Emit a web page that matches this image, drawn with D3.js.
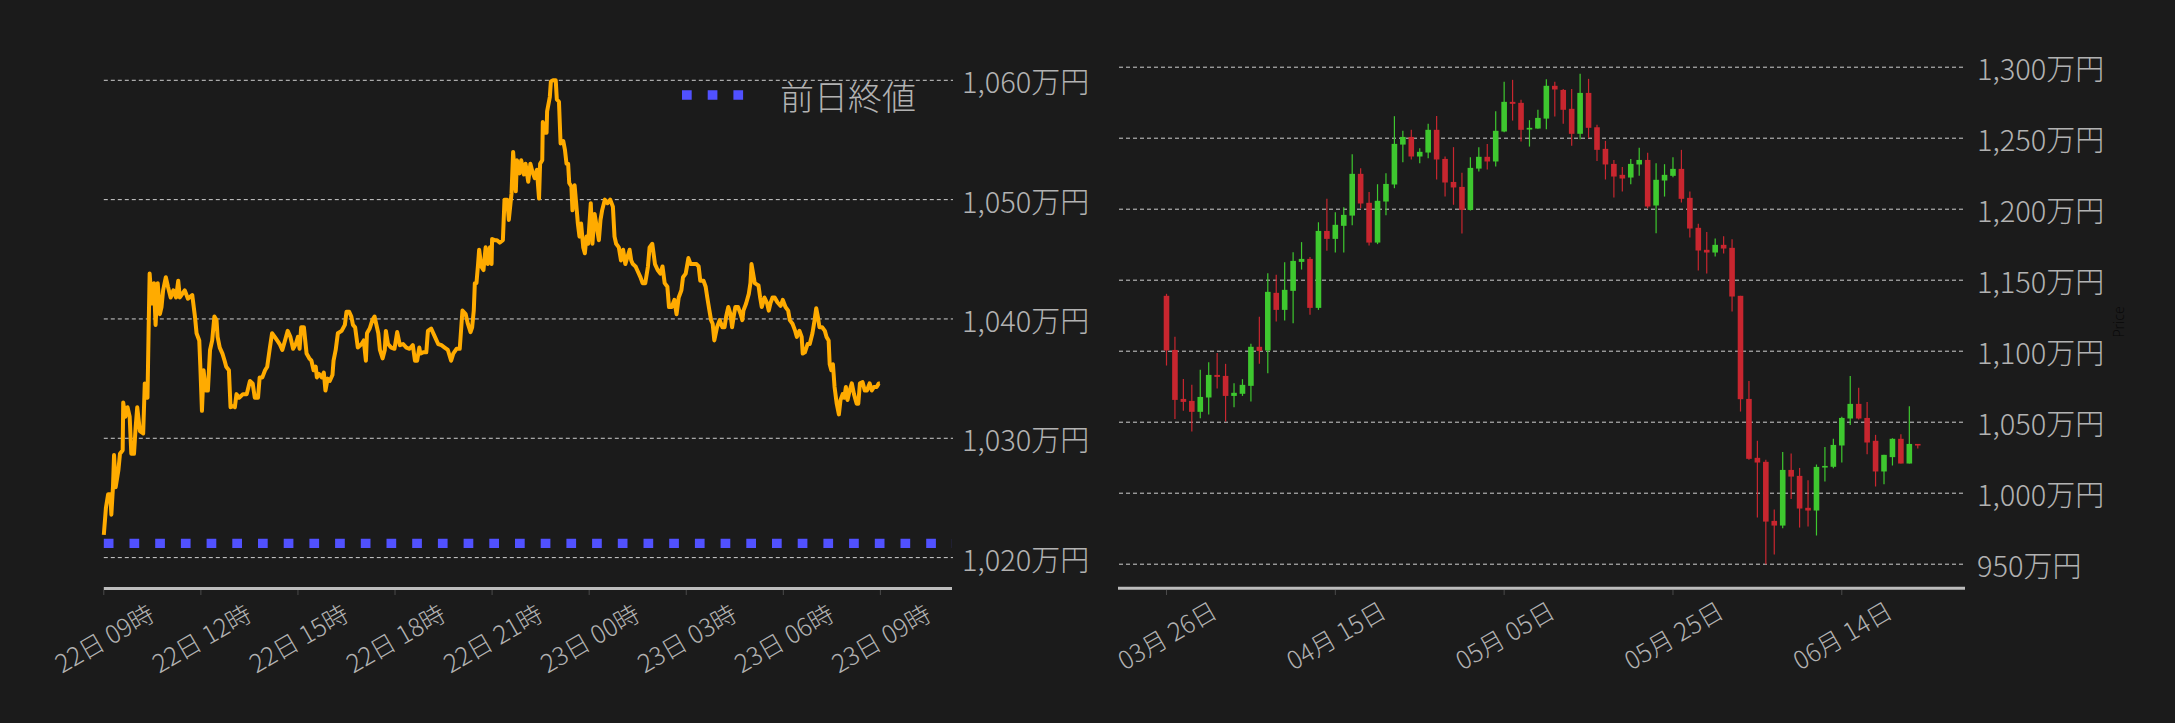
<!DOCTYPE html>
<html><head><meta charset="utf-8">
<script src="https://cdn.jsdelivr.net/npm/d3@7"></script>
<style>
html,body{margin:0;padding:0;background:#1b1b1b;}
svg{display:block;}
text{font-family:"Noto Sans CJK JP","Noto Sans",sans-serif;font-weight:300;}
</style></head><body>
<svg id="chart" width="2175" height="723"></svg>
<script>
// ---------- Left chart: intraday price (minutes after 22日 09:00, 万円) ----------
const lineMinutes = [0,4,8,12,14,17,19,22,27,30,35,36,40,44,48,51,56,59,62,67,73,76,81,83,85,89,93,96,100,104,107,110,115,119,124,129,134,138,141,150,156,164,169,172,177,179,182,185,189,193,197,201,205,209,211,215,220,224,227,232,235,240,243,246,251,258,265,271,276,280,286,289,294,299,303,308,312,317,323,326,331,336,341,346,351,356,360,363,366,371,376,381,385,389,393,395,399,404,408,411,415,419,424,426,430,434,441,447,450,455,459,462,466,471,478,482,486,488,493,498,502,505,509,512,517,521,523,527,533,539,544,549,555,561,567,573,577,581,585,587,592,598,601,607,614,620,626,632,638,644,648,654,660,665,671,675,680,683,686,688,691,694,696,700,704,708,712,716,719,720,725,729,734,740,743,748,751,756,759,764,766,771,774,779,782,787,791,795,799,803,807,809,813,814,818,821,822,827,829,833,838,840,844,847,852,855,858,861,863,867,869,873,877,879,882,
885,889,892,895,898,903,906,910,913,918,921,924,929,934,939,944,947,950,955,959,963,967,971,975,978,981,986,989,995,999,1004,1009,1012,1017,1022,1027,1032,1036,1040,1045,1048,1053,1058,1062,1066,1071,1074,1079,1084,1088,1093,1099,1103,1106,1112,1116,1119,1123,1126,1129,1132,1137,1142,1147,1151,1154,1158,1162,1165,1168,1171,1176,1181,1184,1186,1191,1196,1199,1201,1204,1207,1214,1217,1220,1225,1230,1233,1236,1240,1244,1249,1255,1259,1264,1269,1272,1277,1282,1285,1290,1294,1296,1300,1305,1309,1314,1318,1321,1324,1327,1332,1337,1340,1344,1346,1349,1352,1355,1359,1363,1366,1370,1373,1376,1379,1383,1387,1391,1396,1399,1402,1407,1411,1415,1420,1424,1428,1433,1437,1439];
const lineValues = [1021.9,1024.2,1025.3,1025.3,1023.6,1025.9,1028.6,1025.9,1027.3,1028.7,1029.0,1033.0,1031.8,1032.6,1031.8,1028.7,1028.7,1030.9,1032.6,1030.6,1030.4,1034.6,1033.4,1038.8,1043.8,1041.3,1043.0,1039.5,1043.0,1040.4,1041.0,1042.4,1043.5,1042.7,1041.8,1042.4,1041.8,1043.2,1041.8,1042.4,1041.7,1042.0,1040.2,1038.8,1038.2,1036.0,1032.3,1035.7,1034.0,1034.0,1037.4,1038.2,1040.2,1039.9,1038.5,1037.6,1037.1,1036.5,1036.0,1035.7,1032.6,1032.7,1032.6,1033.7,1033.4,1033.7,1033.7,1034.8,1034.6,1033.4,1033.4,1035.1,1035.1,1035.7,1036.0,1037.6,1038.8,1038.5,1038.1,1037.9,1037.4,1038.2,1039.0,1038.5,1037.5,1037.9,1038.5,1037.5,1039.3,1039.3,1037.1,1036.7,1036.5,1035.7,1036.0,1035.1,1035.4,1035.1,1035.5,1034.0,1035.0,1034.8,1035.3,1036.5,1037.4,1038.8,1039.0,1039.5,1040.6,1040.6,1040.2,1039.5,1039.3,1037.6,1037.9,1038.2,1036.5,1038.8,1039.2,1039.9,1040.2,1039.6,1038.8,1037.4,1036.7,1037.4,1039.0,1037.9,1037.6,1037.5,1038.9,1037.8,1037.9,1037.6,1037.5,1037.8,1036.5,1036.5,1037.6,1037.1,1037.2,1037.2,1039.0,1039.2,1038.5,1037.9,1037.8,1037.6,1037.4,1036.5,1037.1,1037.5,1037.5,1040.7,1040.4,1039.6,1038.9,1039.3,1040.7,1043.0,1043.0,1044.6,1045.8,1044.4,1044.1,1046.0,1044.6,1046.0,1044.6,1046.7,1046.6,1046.6,1046.4,1046.6,1050.0,1050.0,1048.3,1050.5,1054.0,1050.7,1053.3,1052.2,1053.3,1052.1,1053.0,1051.5,1053.0,1052.3,1051.8,1052.5,1050.1,1053.0,1053.3,1056.5,1055.6,1055.6,1057.4,1058.6,1059.9,1060.0,1060.0,1058.4,1058.2,1054.7,1054.9,1054.2,1053.0,1053.0,1051.4,1051.1,1049.1,1051.2,1049.1,1048.0,1046.9,
1048.0,1046.0,1045.5,1046.9,1046.3,1049.7,1046.3,1048.8,1048.0,1046.6,1048.3,1049.1,1050.0,1049.7,1050.0,1049.4,1046.9,1046.3,1046.0,1044.9,1045.8,1044.6,1045.2,1045.8,1044.9,1044.6,1044.4,1044.1,1043.5,1043.0,1043.0,1044.4,1046.0,1046.3,1044.6,1044.1,1043.8,1044.4,1043.0,1042.7,1041.0,1041.0,1041.6,1040.4,1041.8,1042.4,1043.5,1043.8,1045.1,1044.6,1044.6,1044.6,1044.4,1043.2,1043.2,1042.7,1041.8,1040.7,1039.9,1039.6,1038.2,1039.3,1039.9,1039.3,1039.3,1040.2,1041.0,1040.4,1039.3,1040.2,1041.0,1041.0,1040.4,1039.9,1040.7,1041.3,1042.1,1043.0,1044.6,1043.8,1043.0,1042.8,1041.8,1041.0,1041.8,1041.3,1040.7,1041.3,1041.8,1041.8,1041.4,1041.1,1041.6,1041.0,1040.7,1039.9,1039.6,1039.0,1038.5,1039.0,1038.5,1037.1,1037.2,1037.9,1037.9,1038.8,1039.9,1040.9,1040.2,1039.3,1039.3,1039.0,1038.5,1038.2,1036.2,1035.7,1036.2,1034.3,1032.9,1032.0,1033.2,1033.7,1033.4,1034.3,1033.2,1034.0,1034.6,1033.7,1032.9,1032.9,1034.6,1034.7,1034.0,1034.0,1034.6,1034.0,1034.3,1034.3,1034.6,1034.6];
const prevClose = 1021.2;
const legendLabel = "前日終値";
const lineTickHours = [0,3,6,9,12,15,18,21,24];
const lineTickLabels = ["22日 09時","22日 12時","22日 15時","22日 18時","22日 21時","23日 00時","23日 03時","23日 06時","23日 09時"];
const lineYTicks = [1020,1030,1040,1050,1060];

// ---------- Right chart: daily candles (万円) ----------
const candleDates = ["03-26","03-27","03-28","03-29","03-30","03-31",
"04-01","04-02","04-03","04-04","04-05","04-06","04-07","04-08","04-09","04-10","04-11","04-12","04-13","04-14","04-15","04-16","04-17","04-18","04-19","04-20","04-21","04-22","04-23","04-24","04-25","04-26","04-27","04-28","04-29","04-30",
"05-01","05-02","05-03","05-04","05-05","05-06","05-07","05-08","05-09","05-10","05-11","05-12","05-13","05-14","05-15","05-16","05-17","05-18","05-19","05-20","05-21","05-22","05-23","05-24","05-25","05-26","05-27","05-28","05-29","05-30","05-31",
"06-01","06-02","06-03","06-04","06-05","06-06","06-07","06-08","06-09","06-10","06-11","06-12","06-13","06-14","06-15","06-16","06-17","06-18","06-19","06-20","06-21","06-22","06-23"];
const candleOpen = [1139.0,1100.9,1066.4,1065.0,1057.3,1067.4,1083.3,1082.6,1068.5,1070.0,1075.6,1103.1,1100.5,1141.1,1129.1,1142.5,1162.9,1165.0,1130.5,1184.7,1179.1,1188.3,1195.5,1224.9,1204.5,1176.5,1205.4,1217.4,1245.5,1250.9,1237.1,1239.9,1255.9,1235.4,1219.2,1215.7,1199.5,1228.6,1236.9,1233.6,1254.7,1275.6,1274.9,1256.1,1256.8,1263.8,1286.9,1284.0,1270.7,1253.1,1281.9,1257.7,1242.5,1231.9,1224.2,1222.3,1231.5,1234.7,1202.6,1220.2,1223.5,1228.4,1208.0,1186.9,1171.4,1169.5,1174.9,1172.8,1139.0,1066.4,1024.9,1022.1,980.5,977.2,1016.4,1012.2,989.7,987.8,1018.1,1018.6,1033.6,1052.6,1062.9,1053.0,1036.9,1015.3,1025.4,1038.3,1020.9,1034.7];
const candleHigh = [1140.4,1110.1,1080.5,1076.3,1086.9,1092.3,1098.8,1091.1,1077.5,1080.3,1105.2,1124.2,1154.9,1153.8,1162.7,1169.7,1176.8,1166.4,1190.8,1207.3,1197.9,1201.4,1238.7,1228.9,1212.2,1217.6,1225.4,1265.5,1255.2,1255.9,1243.0,1260.1,1265.7,1237.1,1243.7,1225.6,1236.6,1243.7,1246.0,1269.0,1289.7,1291.1,1277.0,1262.7,1270.0,1291.5,1289.7,1284.7,1284.7,1295.3,1291.8,1259.4,1248.1,1234.7,1229.8,1235.4,1243.2,1239.7,1232.4,1231.7,1236.6,1241.8,1212.4,1189.7,1184.0,1179.3,1181.0,1178.9,1139.0,1079.1,1036.9,1023.5,988.5,1029.1,1027.9,1017.8,1009.2,1020.2,1032.6,1038.3,1053.8,1082.6,1074.2,1064.3,1041.1,1027.0,1038.7,1041.5,1061.3,1034.7];
const candleLow = [1089.9,1052.3,1058.0,1043.4,1052.8,1055.4,1073.7,1050.5,1060.6,1068.5,1064.6,1091.1,1084.5,1120.9,1121.6,1119.7,1157.5,1125.6,1129.1,1170.7,1169.5,1169.5,1188.7,1200.7,1174.4,1175.4,1195.8,1214.8,1233.1,1235.0,1232.4,1235.9,1220.9,1208.9,1203.1,1182.9,1199.1,1226.5,1227.9,1230.0,1254.2,1262.4,1247.7,1244.1,1256.6,1256.3,1265.3,1260.1,1244.6,1249.3,1250.0,1234.0,1220.9,1208.2,1212.4,1217.6,1223.5,1200.7,1183.1,1208.9,1222.5,1204.7,1180.0,1156.8,1154.7,1166.7,1168.8,1127.9,1057.5,1023.5,982.9,950.0,956.8,975.4,996.0,975.8,976.5,970.2,1008.2,1017.6,1021.6,1048.1,1051.9,1027.5,1004.7,1006.3,1019.5,1020.9,1020.9,1031.5];
const candleClose = [1100.5,1065.7,1064.3,1057.3,1067.8,1083.3,1081.9,1068.5,1070.7,1076.3,1103.1,1100.2,1141.8,1129.1,1143.2,1163.6,1165.0,1130.5,1184.7,1179.1,1189.0,1196.0,1224.9,1204.0,1176.5,1205.9,1217.8,1246.0,1250.9,1237.1,1240.4,1255.9,1235.0,1218.8,1215.3,1199.5,1229.1,1236.9,1233.6,1255.2,1275.6,1274.2,1255.9,1257.3,1264.3,1286.9,1284.3,1270.0,1253.1,1281.9,1257.3,1241.8,1231.5,1223.0,1221.6,1231.9,1234.7,1201.9,1220.7,1224.2,1228.4,1207.3,1186.4,1170.9,1169.5,1174.9,1172.3,1138.5,1066.2,1024.2,1021.6,980.0,977.2,1016.4,1011.7,989.2,987.8,1018.5,1019.2,1034.0,1053.0,1062.9,1052.6,1035.7,1015.3,1027.0,1038.3,1020.9,1034.7,1033.6];
const candleTickDates = ["03-26","04-15","05-05","05-25","06-14"];
const candleTickLabels = ["03月 26日","04月 15日","05月 05日","05月 25日","06月 14日"];
const candleYTicks = [950,1000,1050,1100,1150,1200,1250,1300];
const yAxisTitle = "Price";

// ---------- drawing ----------
const svg = d3.select("#chart");
const DAY = 864e5, HOUR = 36e5;
const labelColor = "#b2b2b2", gridColor = "#cfcfcf";
const fmt = d3.format(",");

// Left
const t0 = Date.UTC(2024, 5, 22, 9, 0);
const pxPerHour = 776.6 / 24;
const xL = d3.scaleUtc()
  .domain([new Date(t0), new Date(t0 + (952 - 103.8) / pxPerHour * HOUR)])
  .range([103.8, 952]);
const yL = d3.scaleLinear().domain([1020, 1060]).range([557.6, 80.3]);
const gL = svg.append("g");

gL.selectAll("line.grid").data(lineYTicks).join("line")
  .attr("x1", 103.8).attr("x2", 953)
  .attr("y1", d => yL(d)).attr("y2", d => yL(d))
  .attr("stroke", gridColor).attr("stroke-width", 1).attr("stroke-dasharray", "4,3");
gL.selectAll("text.ylab").data(lineYTicks).join("text")
  .attr("x", 962).attr("y", d => yL(d))
  .attr("dominant-baseline", "central")
  .attr("font-size", 29).attr("fill", labelColor)
  .text(d => fmt(d) + "万円");

// previous close dotted line
gL.append("line")
  .attr("x1", xL.range()[0]).attr("x2", xL.range()[1])
  .attr("y1", yL(prevClose)).attr("y2", yL(prevClose))
  .attr("stroke", "#5151ff").attr("stroke-width", 9.3).attr("stroke-dasharray", "9.7,16");

// price line
const linePts = d3.range(Math.min(lineMinutes.length, lineValues.length))
  .map(i => [new Date(t0 + lineMinutes[i] * 60000), lineValues[i]]);
gL.append("path")
  .attr("d", d3.line().x(d => xL(d[0])).y(d => yL(d[1]))(linePts))
  .attr("fill", "none").attr("stroke", "#ffab00").attr("stroke-width", 4)
  .attr("stroke-linejoin", "round");

// x axis
gL.append("line").attr("x1", 103.8).attr("x2", 952).attr("y1", 588.5).attr("y2", 588.5)
  .attr("stroke", "#bdbdbd").attr("stroke-width", 3);
gL.selectAll("line.tick").data(lineTickHours).join("line")
  .attr("x1", d => xL(new Date(t0 + d * HOUR))).attr("x2", d => xL(new Date(t0 + d * HOUR)))
  .attr("y1", 590).attr("y2", 595).attr("stroke", "#4a4a4a").attr("stroke-width", 1);
gL.selectAll("text.xlab").data(lineTickHours).join("text")
  .attr("transform", d => `translate(${xL(new Date(t0 + d * HOUR))},637) rotate(-30)`)
  .attr("text-anchor", "middle").attr("dominant-baseline", "central")
  .attr("font-size", 25).attr("fill", labelColor)
  .text((d, i) => lineTickLabels[i]);

// legend
gL.append("line").attr("x1", 682).attr("x2", 744).attr("y1", 95).attr("y2", 95)
  .attr("stroke", "#5151ff").attr("stroke-width", 9.3).attr("stroke-dasharray", "9.7,16");
gL.append("text").attr("x", 780).attr("y", 95)
  .attr("dominant-baseline", "central").attr("font-size", 34).attr("fill", labelColor)
  .text(legendLabel);

// Right
const parseDay = s => { const [m, d] = s.split("-").map(Number); return new Date(Date.UTC(2024, m - 1, d)); };
const d0 = Date.UTC(2024, 2, 26);
const pxPerDay = 675.3 / 80;
const xR = d3.scaleUtc()
  .domain([new Date(d0 - (1166.5 - 1118) / pxPerDay * DAY), new Date(d0 + (1965 - 1166.5) / pxPerDay * DAY)])
  .range([1118, 1965]);
const yR = d3.scaleLinear().domain([950, 1300]).range([564.2, 67.2]);
const gR = svg.append("g");

gR.selectAll("line.grid").data(candleYTicks).join("line")
  .attr("x1", 1119).attr("x2", 1964)
  .attr("y1", d => yR(d)).attr("y2", d => yR(d))
  .attr("stroke", gridColor).attr("stroke-width", 1).attr("stroke-dasharray", "4,3");
gR.selectAll("text.ylab").data(candleYTicks).join("text")
  .attr("x", 1977).attr("y", d => yR(d))
  .attr("dominant-baseline", "central")
  .attr("font-size", 29).attr("fill", labelColor)
  .text(d => fmt(d) + "万円");

const candles = candleDates.map((s, i) => ({
  date: parseDay(s), o: candleOpen[i], h: candleHigh[i], l: candleLow[i], c: candleClose[i]
}));
const up = "#3ec82f", down = "#c8262f";
const cg = gR.selectAll("g.candle").data(candles).join("g");
cg.append("line")
  .attr("x1", d => xR(d.date)).attr("x2", d => xR(d.date))
  .attr("y1", d => yR(d.h)).attr("y2", d => yR(d.l))
  .attr("stroke", d => d.c >= d.o ? up : down).attr("stroke-width", 1.2);
const bw = 5.6;
cg.append("rect")
  .attr("x", d => xR(d.date) - bw / 2).attr("width", bw)
  .attr("y", d => yR(Math.max(d.o, d.c)))
  .attr("height", d => Math.max(1.6, Math.abs(yR(d.o) - yR(d.c))))
  .attr("fill", d => d.c >= d.o ? up : down);

gR.append("line").attr("x1", 1118).attr("x2", 1965).attr("y1", 588.3).attr("y2", 588.3)
  .attr("stroke", "#bdbdbd").attr("stroke-width", 3);
gR.selectAll("line.tick").data(candleTickDates).join("line")
  .attr("x1", d => xR(parseDay(d))).attr("x2", d => xR(parseDay(d)))
  .attr("y1", 590).attr("y2", 595).attr("stroke", "#4a4a4a").attr("stroke-width", 1);
gR.selectAll("text.xlab").data(candleTickDates).join("text")
  .attr("transform", d => `translate(${xR(parseDay(d))},634) rotate(-30)`)
  .attr("text-anchor", "middle").attr("dominant-baseline", "central")
  .attr("font-size", 25).attr("fill", labelColor)
  .text((d, i) => candleTickLabels[i]);

gR.append("text")
  .attr("transform", "translate(2118,322) rotate(-90)")
  .attr("text-anchor", "middle").attr("dominant-baseline", "central")
  .attr("font-size", 14).attr("fill", "#080808")
  .style("font-family", "'Open Sans', sans-serif")
  .text(yAxisTitle);
</script>
</body></html>
